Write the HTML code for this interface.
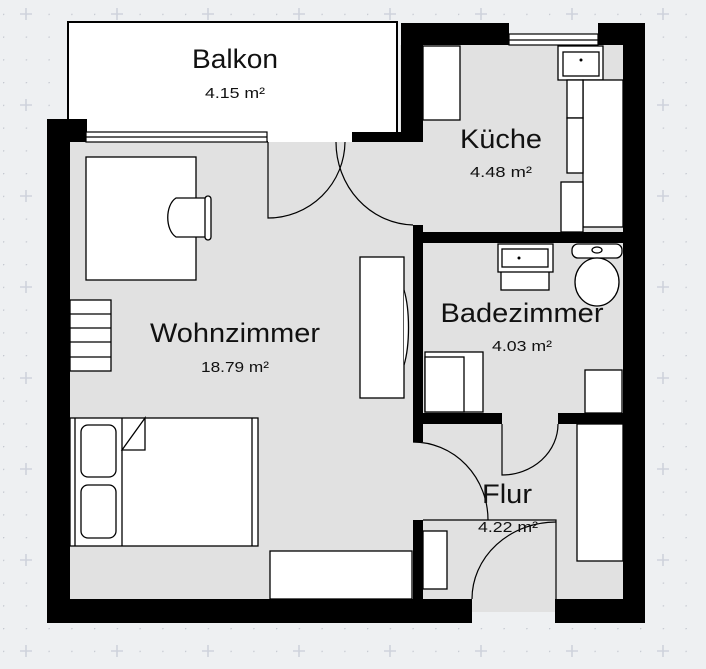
<!DOCTYPE html>
<html><head><meta charset="utf-8"><style>
html,body{margin:0;padding:0;background:#eef0f2;}
svg{display:block}
text{font-family:"Liberation Sans",sans-serif;fill:#111;text-anchor:middle}
</style></head><body>
<svg width="706" height="669" viewBox="0 0 706 669" xmlns="http://www.w3.org/2000/svg">
<defs>
<pattern id="dots" x="3" y="-9" width="22.75" height="22.75" patternUnits="userSpaceOnUse">
<circle cx="0.5" cy="0.5" r="0.9" fill="#c4c8d0"/></pattern>
<pattern id="plus" x="26" y="14" width="91" height="91" patternUnits="userSpaceOnUse" patternTransform="translate(-26,-14)">
<path d="M26 8v12M20 14h12" stroke="#cfd3dc" stroke-width="1.6"/></pattern>
</defs>
<rect width="706" height="669" fill="#eef0f2"/>
<rect width="706" height="669" fill="url(#dots)"/>
<rect width="706" height="669" fill="url(#plus)"/>
<rect x="68" y="22" width="329" height="120" fill="#fff" stroke="#000" stroke-width="2"/>
<rect x="70" y="142" width="343" height="457" fill="#e1e1e1"/>
<rect x="400" y="45" width="223" height="555" fill="#e1e1e1"/>
<rect x="472" y="598" width="83" height="14" fill="#e1e1e1"/>
<rect x="268" y="131" width="84" height="11" fill="#fff"/>
<g fill="#000">
<rect x="47" y="119" width="23" height="504"/>
<rect x="47" y="119" width="40" height="23"/>
<rect x="47" y="599" width="425" height="24"/>
<rect x="555" y="599" width="90" height="24"/>
<rect x="623" y="23" width="22" height="600"/>
<rect x="598" y="23" width="47" height="22"/>
<rect x="401" y="23" width="108" height="22"/>
<rect x="401" y="23" width="22" height="119"/>
<rect x="352" y="132" width="71" height="10"/>
<rect x="413" y="225" width="10" height="217"/>
<rect x="413" y="520" width="10" height="80"/>
<rect x="413" y="232" width="232" height="11"/>
<rect x="413" y="413" width="89" height="11"/>
<rect x="558" y="413" width="65" height="11"/>
</g>
<g fill="#fff" stroke="#000" stroke-width="1.2">
<rect x="86" y="132" width="181" height="10"/>
<line x1="86" y1="137" x2="267" y2="137"/>
<rect x="509" y="34" width="89" height="11"/>
<line x1="509" y1="40" x2="598" y2="40"/>
</g>
<g fill="#fff" stroke="#000" stroke-width="1.3">
<rect x="86" y="157" width="110" height="123"/>
<path d="M176 198 C165 205 165 230 176 237 L206 237 L206 198 Z"/>
<rect x="205" y="196" width="6" height="44" rx="3"/>
<rect x="70" y="300" width="41" height="71"/>
<line x1="70" y1="314" x2="111" y2="314"/><line x1="70" y1="328" x2="111" y2="328"/><line x1="70" y1="342" x2="111" y2="342"/><line x1="70" y1="357" x2="111" y2="357"/>
<rect x="360" y="257" width="44" height="141"/>
<path d="M404 290 C410 310 410 345 404 365"/>
<rect x="70" y="418" width="188" height="128"/>
<line x1="75" y1="418" x2="75" y2="546"/><line x1="252" y1="418" x2="252" y2="546"/>
<line x1="122" y1="418" x2="122" y2="546"/>
<rect x="81" y="425" width="35" height="52" rx="7"/>
<rect x="81" y="485" width="35" height="53" rx="7"/>
<path d="M122 450 L145 418 L145 450 Z"/>
<rect x="270" y="551" width="142" height="48"/>
<rect x="423" y="46" width="37" height="74"/>
<rect x="558" y="46" width="45" height="34"/>
<rect x="563" y="52" width="36" height="24"/>
<rect x="583" y="80" width="40" height="147"/>
<rect x="567" y="80" width="16" height="38"/>
<rect x="567" y="118" width="16" height="55"/>
<rect x="561" y="182" width="22" height="50"/>
<rect x="501" y="253" width="48" height="37"/>
<rect x="498" y="244" width="55" height="28"/>
<rect x="502" y="249" width="46" height="18"/>
<rect x="572" y="244" width="50" height="14" rx="6"/>
<ellipse cx="597" cy="282" rx="22" ry="24"/>
<ellipse cx="597" cy="250" rx="5" ry="3"/>
<rect x="425" y="352" width="58" height="60"/>
<rect x="425" y="357" width="39" height="55"/>
<rect x="585" y="370" width="37" height="43"/>
<rect x="577" y="424" width="46" height="137"/>
<rect x="423" y="531" width="24" height="58"/>
</g>
<g fill="#000"><circle cx="581" cy="60" r="1.5"/><circle cx="519" cy="258" r="1.5"/></g>
<g fill="none" stroke="#000" stroke-width="1.2">
<path d="M268 142 V218 A77 77 0 0 0 345 142"/>
<path d="M336 142 A79 83 0 0 0 413 225"/>
<path d="M413 442 A75 78 0 0 1 488 520"/>
<path d="M558 424 A56 51 0 0 1 502 475 V424"/>
<path d="M423 520 H556 V599"/>
<path d="M472 599 A84 77 0 0 1 556 522"/>
</g>
<g font-size="27">
<text x="235" y="68" textLength="86" lengthAdjust="spacingAndGlyphs">Balkon</text>
<text x="501" y="148" textLength="82" lengthAdjust="spacingAndGlyphs">Küche</text>
<text x="522" y="322" textLength="163" lengthAdjust="spacingAndGlyphs">Badezimmer</text>
<text x="235" y="342" textLength="170" lengthAdjust="spacingAndGlyphs">Wohnzimmer</text>
<text x="507" y="503" textLength="50" lengthAdjust="spacingAndGlyphs">Flur</text>
</g>
<g font-size="15">
<text x="235" y="98" textLength="60" lengthAdjust="spacingAndGlyphs">4.15 m²</text>
<text x="501" y="177" textLength="62" lengthAdjust="spacingAndGlyphs">4.48 m²</text>
<text x="522" y="351" textLength="60" lengthAdjust="spacingAndGlyphs">4.03 m²</text>
<text x="235" y="372" textLength="68" lengthAdjust="spacingAndGlyphs">18.79 m²</text>
<text x="508" y="532" textLength="60" lengthAdjust="spacingAndGlyphs">4.22 m²</text>
</g>
</svg>
</body></html>
